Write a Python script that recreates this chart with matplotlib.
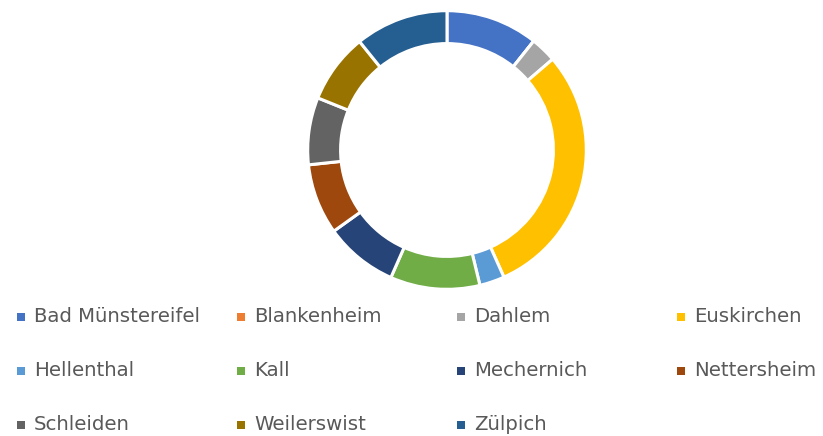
import matplotlib
matplotlib.use("Agg")
import matplotlib.pyplot as plt
from matplotlib.patches import Rectangle

labels = ["Bad Münstereifel", "Blankenheim", "Dahlem", "Euskirchen", "Hellenthal",
          "Kall", "Mechernich", "Nettersheim", "Schleiden", "Weilerswist", "Zülpich"]
values = [10.7, 0.0, 3.0, 29.6, 2.9, 10.4, 8.5, 8.2, 7.8, 8.1, 10.8]
colors = ["#4472C4", "#ED7D31", "#A5A5A5", "#FFC000", "#5B9BD5", "#70AD47",
          "#264478", "#9E480E", "#636363", "#997300", "#255E91"]

W, H = 823, 436
fig = plt.figure(figsize=(W / 100, H / 100), dpi=100)
cx, cy, r = 447, 150, 140
ax = fig.add_axes([(cx - r) / W, (H - cy - r) / H, 2 * r / W, 2 * r / H])
ax.pie(values, colors=colors, startangle=90, counterclock=False, radius=1,
       wedgeprops=dict(width=0.236, edgecolor="white", linewidth=2.2))
ax.set_xlim(-1.005, 1.005)
ax.set_ylim(-1.005, 1.005)
ax.set_aspect("equal")
ax.axis("off")

col_x = [17, 237, 457, 677]
row_y = [316.5, 370.5, 424.5]
for i, (lab, col) in enumerate(zip(labels, colors)):
    rr, cc = divmod(i, 4)
    x, y = col_x[cc], row_y[rr]
    fig.add_artist(Rectangle((x / W, (H - y - 4) / H), 8 / W, 8 / H,
                             transform=fig.transFigure, facecolor=col, edgecolor="none"))
    fig.text((x + 17) / W, (H - y) / H, lab, fontsize=14.2, color="#595959",
             family="DejaVu Sans", va="center", ha="left")

fig.savefig("out.png", dpi=100)
